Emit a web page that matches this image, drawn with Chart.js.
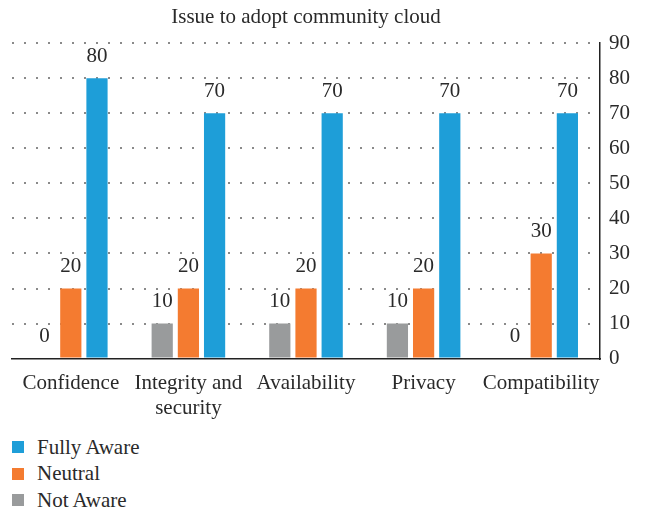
<!DOCTYPE html>
<html>
<head>
<meta charset="utf-8">
<script src="https://cdn.jsdelivr.net/npm/chart.js@4/dist/chart.umd.min.js"></script>
<style>
    body { margin: 0; background: #fff; }
    #wrap { position: relative; width: 651px; height: 510px; }
    #chart { position: absolute; left: 0; top: 0; }
    #legend { position: absolute; left: 12px; top: 434px; font-family: "Liberation Serif", serif; font-size: 21px; color: #2a2a2a; }
    .item { height: 26.5px; display: flex; align-items: center; }
    .box { width: 12px; height: 12px; margin-right: 13px; }
</style>
</head>
<body>
<div id="wrap">
    <canvas id="chart" width="651" height="432"></canvas>
    <div id="legend"></div>
</div>
<script>
const categories = ['Confidence', ['Integrity and', 'security'], 'Availability', 'Privacy', 'Compatibility'];
const notAware = [0, 10, 10, 10, 0];
const neutral = [20, 20, 20, 20, 30];
const fullyAware = [80, 70, 70, 70, 70];
const seriesNames = ['Not Aware', 'Neutral', 'Fully Aware'];
const seriesColors = ['#999b9c', '#f47b30', '#1e9ed8'];

const textColor = '#2a2a2a';
const serif = 'Liberation Serif';

// valeurs au-dessus des barres
const valueLabels = {
    id: 'valueLabels',
    afterDatasetsDraw(chart) {
        const ctx = chart.ctx;
        ctx.save();
        ctx.font = '21px "' + serif + '"';
        ctx.fillStyle = textColor;
        ctx.textAlign = 'center';
        ctx.textBaseline = 'middle';
        chart.data.datasets.forEach((ds, i) => {
            chart.getDatasetMeta(i).data.forEach((bar, j) => {
                ctx.fillText(ds.data[j], bar.x, bar.y - 22);
            });
        });
        ctx.restore();
    }
};

const series = [notAware, neutral, fullyAware];

const chart = new Chart(document.getElementById('chart'), {
    type: 'bar',
    data: {
        labels: categories,
        datasets: series.map((values, i) => ({
            label: seriesNames[i],
            data: values,
            backgroundColor: seriesColors[i],
            categoryPercentage: 0.668,
            barPercentage: 0.81
        }))
    },
    options: {
        responsive: false,
        animation: false,
        devicePixelRatio: 1,
        layout: { padding: { left: 12, right: 12, top: 0, bottom: 7 } },
        plugins: {
            legend: { display: false },
            tooltip: { enabled: false },
            title: {
                display: true,
                text: 'Issue to adopt community cloud',
                fullSize: false,
                color: textColor,
                font: { family: serif, size: 21, weight: 'normal', lineHeight: 1.2 },
                padding: { top: 5, bottom: 13 }
            }
        },
        scales: {
            x: {
                grid: { display: false },
                border: { display: true, color: '#222', width: 1.5 },
                ticks: {
                    color: textColor,
                    padding: 4,
                    maxRotation: 0,
                    autoSkip: false,
                    font: { family: serif, size: 21, lineHeight: 1.2 }
                }
            },
            y: {
                position: 'right',
                min: 0,
                max: 90,
                grid: {
                    color: ctx => ctx.tick && ctx.tick.value === 0 ? 'rgba(0,0,0,0)' : '#8a8a8a',
                    lineWidth: 2,
                    drawTicks: false
                },
                border: { display: true, color: '#222', width: 1.5, dash: [2, 10] },
                ticks: {
                    stepSize: 10,
                    color: textColor,
                    padding: 9,
                    font: { family: serif, size: 21 }
                }
            }
        }
    },
    plugins: [valueLabels]
});

// legende en colonne, dans l'ordre inverse des séries
const legend = document.getElementById('legend');
for (let i = seriesNames.length - 1; i >= 0; i--) {
    const row = document.createElement('div');
    row.className = 'item';
    row.innerHTML = `<span class="box" style="background:${seriesColors[i]}"></span>${seriesNames[i]}`;
    legend.appendChild(row);
}
</script>
</body>
</html>
